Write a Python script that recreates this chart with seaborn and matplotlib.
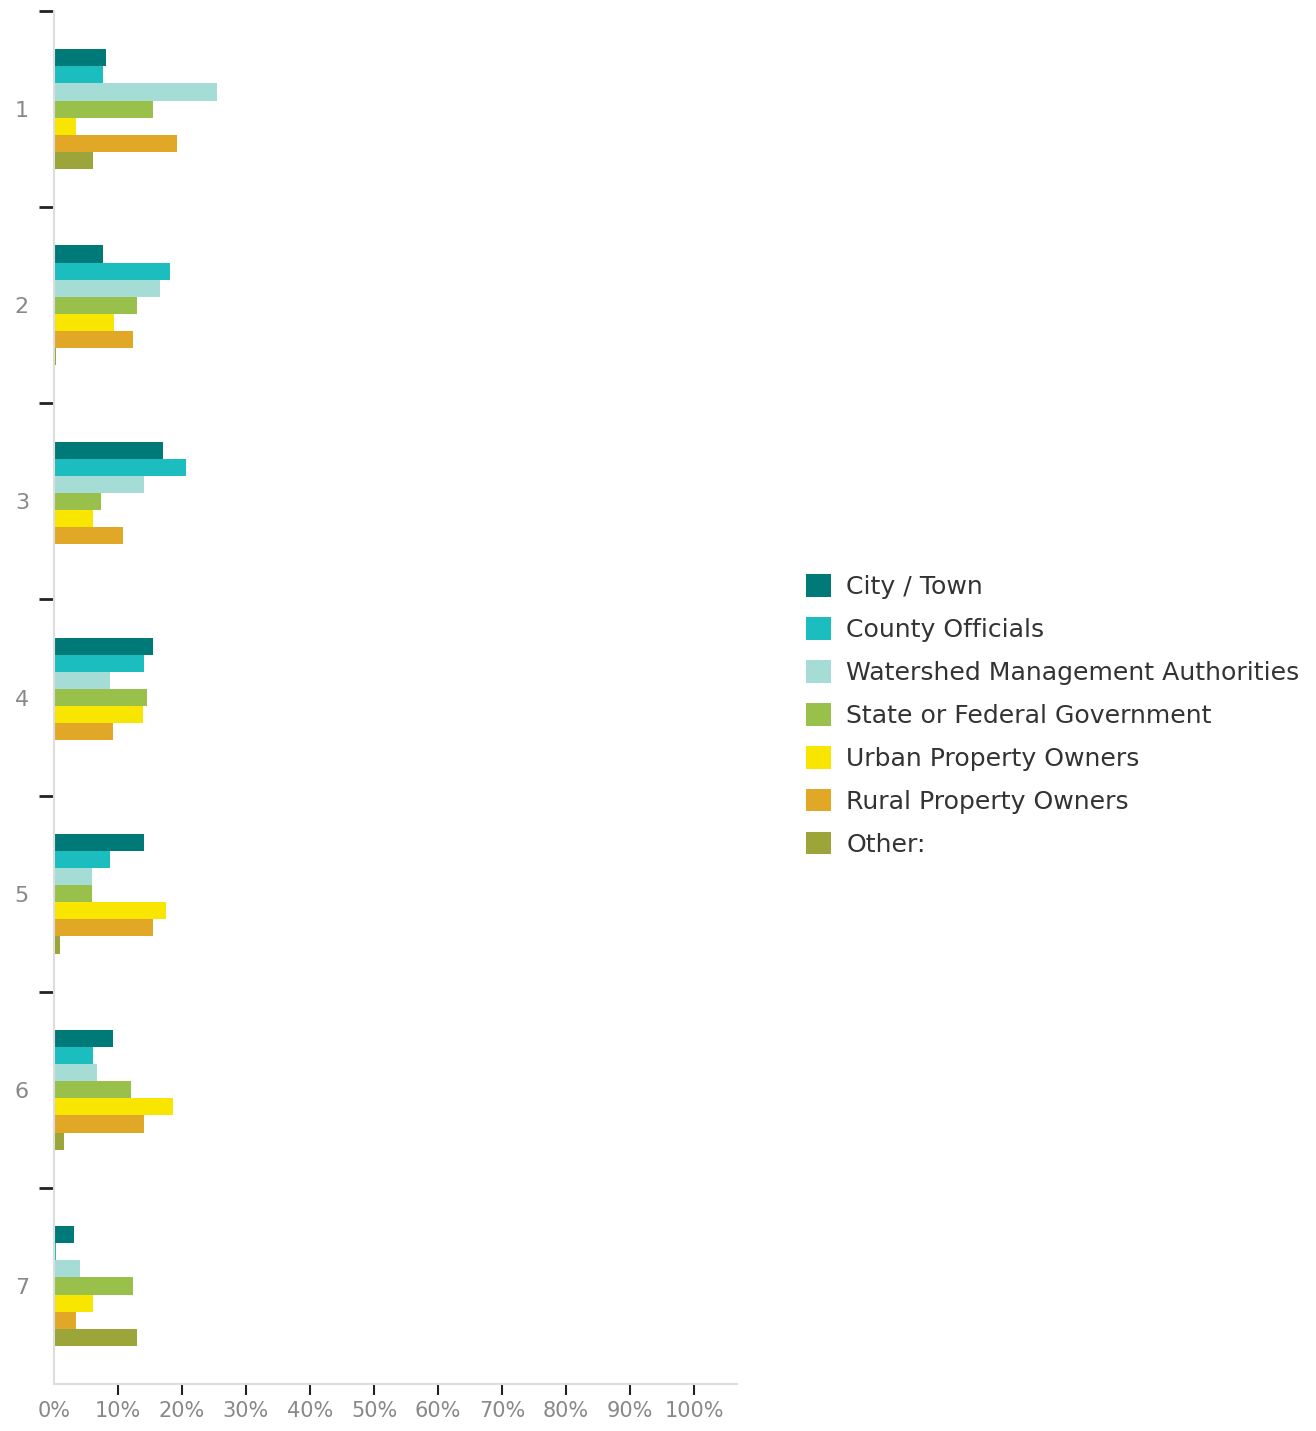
import matplotlib
matplotlib.use("Agg")
import matplotlib.pyplot as plt
import seaborn as sns
import pandas as pd
import numpy as np
from matplotlib.ticker import FixedLocator

categories = ["1", "2", "3", "4", "5", "6", "7"]
series = ["City / Town", "County Officials", "Watershed Management Authorities",
          "State or Federal Government", "Urban Property Owners",
          "Rural Property Owners", "Other:"]
city = [8.2, 7.7, 17.1, 15.5, 14.0, 9.3, 3.1]
county = [7.7, 18.2, 20.7, 14.0, 8.8, 6.1, 0.3]
watershed = [25.4, 16.5, 14.0, 8.7, 6.0, 6.7, 4.0]
state = [15.5, 12.9, 7.4, 14.5, 6.0, 12.1, 12.4]
urban = [3.5, 9.4, 6.1, 13.9, 17.5, 18.6, 6.1]
rural = [19.2, 12.4, 10.8, 9.3, 15.5, 14.0, 3.5]
other = [6.1, 0.3, 0.0, 0.0, 0.9, 1.5, 12.9]
colors = ["#007A78", "#1BBDBE", "#A6DCD6", "#98C04A", "#F8E500", "#E0A826", "#9BA539"]
xticks = [0, 10, 20, 30, 40, 50, 60, 70, 80, 90, 100]
xticklabels = ["0%", "10%", "20%", "30%", "40%", "50%", "60%", "70%", "80%", "90%", "100%"]

values = [city, county, watershed, state, urban, rural, other]
rows = []
for s, vals in zip(series, values):
    for c, v in zip(categories, vals):
        rows.append({"cat": c, "series": s, "value": v})
df = pd.DataFrame(rows)

sns.set_style("white")
plt.rcParams['font.family'] = ['DejaVu Sans']

fig = plt.figure(figsize=(13.16, 14.31), dpi=100)
ax = fig.add_axes([0.041, 0.0328, 0.519, 0.9595])

sns.barplot(data=df, y="cat", x="value", hue="series", order=categories,
            hue_order=series, palette=colors, orient="h", width=0.61,
            gap=0, saturation=1, linewidth=0, ax=ax, legend=True)

ax.set_xlim(0, 106.7)
ax.set_ylim(6.5, -0.5)
ax.set_xticks(xticks)
ax.set_xticklabels(xticklabels, fontsize=15, color="#888888")
ax.tick_params(axis="x", which="major", bottom=True, length=8, width=1.5,
               color="#222222", pad=4)
ax.xaxis.get_major_ticks()[0].tick1line.set_visible(False)

ax.set_yticks(range(len(categories)))
ax.set_yticklabels(categories, fontsize=16, color="#888888")
ax.tick_params(axis="y", which="major", left=True, length=0, pad=18)
ax.yaxis.set_minor_locator(FixedLocator(np.arange(-0.5, 6.0, 1.0)))
ax.tick_params(axis="y", which="minor", left=True, length=11, width=2,
               color="#222222")

ax.set_xlabel("")
ax.set_ylabel("")
for sp in ["top", "right"]:
    ax.spines[sp].set_visible(False)
for sp in ["left", "bottom"]:
    ax.spines[sp].set_color("#dddddd")
    ax.spines[sp].set_linewidth(1.5)

handles, labels = ax.get_legend_handles_labels()
ax.legend_.remove()
fig.legend(handles, labels, loc="center left", bbox_to_anchor=(0.605, 0.5),
           frameon=False, fontsize=18.1, labelcolor="#333333",
           handlelength=1.0, handleheight=1.0, handletextpad=0.6,
           labelspacing=0.72, borderaxespad=0)

fig.savefig("out.png", dpi=100)
